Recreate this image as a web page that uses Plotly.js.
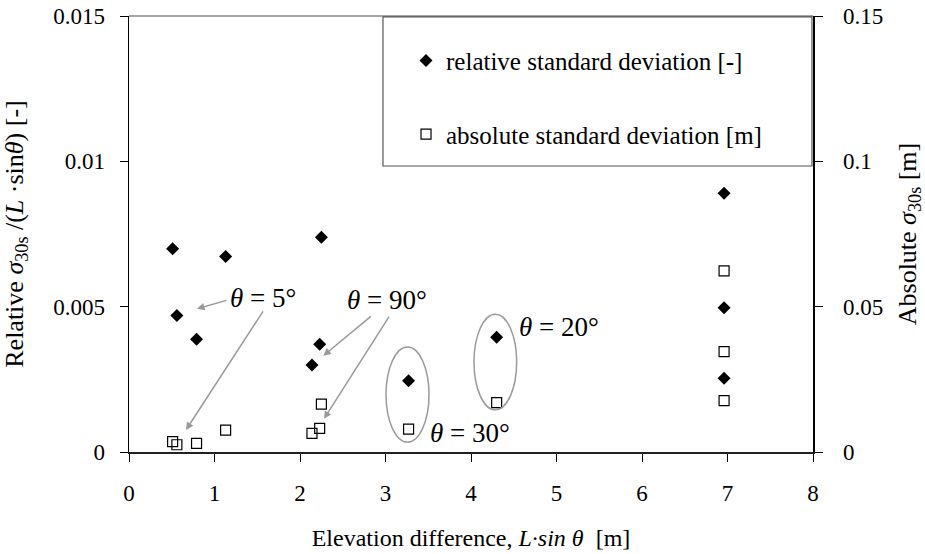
<!DOCTYPE html>
<html>
<head>
<meta charset="utf-8">
<script src="https://cdn.plot.ly/plotly-3.0.1.min.js"></script>
<style>
html,body{margin:0;padding:0;background:#fff;}
#chart{width:925px;height:554px;}
</style>
</head>
<body>
<div id="chart"></div>
<script>
// Elevation difference L·sinθ [m]
const relX = [0.51, 0.56, 0.79, 1.13, 2.14, 2.23, 2.25, 3.27, 4.30, 6.96, 6.96, 6.96];
// Relative standard deviation [-]
const relY = [0.00699, 0.00470, 0.00388, 0.00673, 0.00299, 0.00371, 0.00739, 0.00245, 0.00395, 0.00890, 0.00496, 0.00254];
const absX = [0.51, 0.56, 0.79, 1.13, 2.14, 2.23, 2.25, 3.27, 4.30, 6.96, 6.96, 6.96];
// Absolute standard deviation [m]
const absY = [0.0036, 0.0025, 0.0030, 0.0075, 0.0064, 0.0081, 0.0165, 0.0079, 0.0170, 0.0623, 0.0345, 0.0177];
const xTicks = [0, 1, 2, 3, 4, 5, 6, 7, 8];
const yTicks = [0, 0.005, 0.01, 0.015];
const yTickText = ['0', '0.005', '0.01', '0.015'];
const y2Ticks = [0, 0.05, 0.1, 0.15];
const y2TickText = ['0', '0.05', '0.1', '0.15'];

const FONT = 'Liberation Serif';
const GRAY = '#9a9a9a';

const traces = [
  {x: relX, y: relY, type: 'scatter', mode: 'markers', name: 'relative standard deviation [-]',
   legendgroup: 'a', marker: {symbol: 'diamond', size: 10, color: '#000'}, yaxis: 'y'},
  {x: absX, y: absY, type: 'scatter', mode: 'markers', name: 'absolute standard deviation [m]',
   legendgroup: 'b', marker: {symbol: 'square-open', size: 10, color: '#000', line: {width: 1.2, color: '#000'}}, yaxis: 'y2'}
];

function arrow(hx, hy, tx, ty) {
  return {x: hx, y: hy, ax: tx, ay: ty, xref: 'x', yref: 'y', axref: 'x', ayref: 'y',
    text: '', showarrow: true, arrowhead: 2, arrowsize: 1, arrowwidth: 1.5, arrowcolor: GRAY};
}
function label(x, y, t) {
  return {x: x, y: y, xref: 'x', yref: 'y', text: t, showarrow: false,
    font: {family: FONT, size: 27, color: '#000'}};
}

const layout = {
  width: 925, height: 554,
  margin: {l: 129, r: 112, t: 16, b: 102},
  paper_bgcolor: '#fff', plot_bgcolor: '#fff',
  showlegend: true,
  legend: {x: 0.405, y: 0.95, xanchor: 'left', yanchor: 'top', bgcolor: 'rgba(0,0,0,0)',
    borderwidth: 0, font: {family: FONT, size: 25, color: '#000'}, tracegroupgap: 38,
    itemwidth: 30},
  xaxis: {range: [0, 8], tickvals: xTicks, ticks: 'outside', ticklen: 8, tickcolor: '#000',
    showline: true, linecolor: '#222', linewidth: 1.5, showgrid: false, zeroline: false,
    ticklabelstandoff: 12, tickfont: {family: FONT, size: 23, color: '#000'},
    title: {text: 'Elevation difference, <i>L·sin θ</i>  [m]', standoff: 24, font: {family: FONT, size: 24, color: '#000'}}},
  yaxis: {range: [0, 0.015], tickvals: yTicks, ticktext: yTickText,
    ticks: 'outside', ticklen: 8, tickcolor: '#000', showline: true, linecolor: '#000', linewidth: 1.5,
    showgrid: false, zeroline: false, ticklabelstandoff: 10, tickfont: {family: FONT, size: 23, color: '#000'},
    title: {text: 'Relative <i>σ</i><sub>30s</sub> /(<i>L</i> ·sin<i>θ</i>) [-]', standoff: 28, font: {family: FONT, size: 26, color: '#000'}}},
  yaxis2: {range: [0, 0.15], tickvals: y2Ticks, ticktext: y2TickText,
    overlaying: 'y', side: 'right', ticks: 'outside', ticklen: 8, tickcolor: '#000',
    showline: true, linecolor: '#000', linewidth: 1.5, showgrid: false, zeroline: false,
    ticklabelstandoff: 16, tickfont: {family: FONT, size: 23, color: '#000'},
    title: {text: 'Absolute <i>σ</i><sub>30s</sub> [m]', standoff: 22, font: {family: FONT, size: 26, color: '#000'}}},
  shapes: [
    {type: 'line', xref: 'paper', yref: 'paper', x0: 0, x1: 1, y0: 1, y1: 1, line: {color: '#888', width: 1.5}},
    {type: 'rect', xref: 'paper', yref: 'paper', x0: 0.3713, x1: 0.9985, y0: 0.656, y1: 0.998,
     line: {color: '#555', width: 1.2}, fillcolor: 'rgba(255,255,255,0)'},
    {type: 'circle', xref: 'x', yref: 'y', x0: 3.006, x1: 3.509, y0: 0.00034, y1: 0.00361,
     line: {color: GRAY, width: 1.5}},
    {type: 'circle', xref: 'x', yref: 'y', x0: 4.035, x1: 4.534, y0: 0.00145, y1: 0.00474,
     line: {color: GRAY, width: 1.5}}
  ],
  annotations: [
    label(1.573, 0.00529, '<i>θ</i> = 5°'),
    label(3.013, 0.00523, '<i>θ</i> = 90°'),
    label(5.03, 0.0043, '<i>θ</i> = 20°'),
    label(3.985, 0.00066, '<i>θ</i> = 30°'),
    arrow(0.795, 0.00493, 1.158, 0.00523),
    arrow(0.667, 0.00076, 1.579, 0.00489),
    arrow(2.273, 0.00331, 2.846, 0.00471),
    arrow(2.281, 0.00114, 3.053, 0.00471)
  ]
};

Plotly.newPlot('chart', traces, layout, {displayModeBar: false, staticPlot: true});
</script>
</body>
</html>
